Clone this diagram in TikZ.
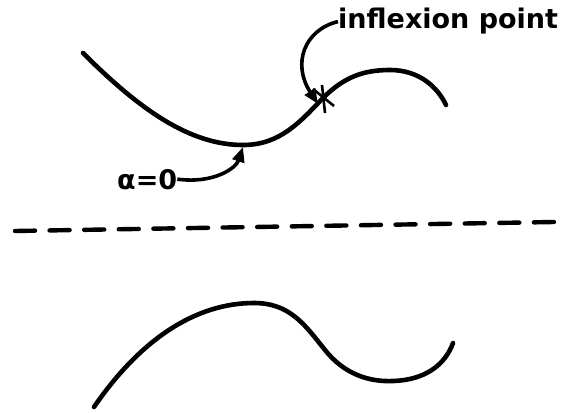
\documentclass[tikz,border=0pt]{standalone}
\usepackage{fontspec}
\setmainfont{DejaVu Sans}
\usetikzlibrary{arrows.meta}

\begin{document}
\begin{tikzpicture}[x=1pt, y=-1pt,
    curve/.style={line width=4.6pt, line cap=round},
    pointer/.style={line width=3.6pt, -{Triangle[length=15pt, width=12pt]}},
    every node/.style={font=\bfseries\fontsize{27}{29}\selectfont, inner sep=0pt}]
  \useasboundingbox (0,0) rectangle (561,412);
  % upper curve with its inflexion point
  \draw[curve] (83,53) .. controls (140,110) and (190,145) .. (243,145)
    .. controls (280,145) and (300,122) .. (323,98)
    .. controls (345,76) and (365,70) .. (390,70)
    .. controls (420,70) and (438,88) .. (446,105);
  \coordinate (xmark) at (323,98);
  \coordinate (minpt) at (243,147);
  \draw[line width=2.6pt] (313,89) -- (334,106);
  \draw[line width=2.6pt] (322,85) -- (325,113);
  \node[anchor=base west] (infl) at (338,29) {inflexion point};
  \node[anchor=base west] (azero) at (117,189) {α=0};
  \draw[pointer] (infl.west) .. controls (304,30) and (292,64) .. ([xshift=-5pt, yshift=-6pt]xmark);
  \draw[pointer] (azero.east) .. controls (214,184) and (236,168) .. (minpt);
  % dividing line
  \draw[line width=4.4pt, line cap=round, dash pattern=on 20pt off 14.6pt] (15,231) -- (554,222);
  % lower curve
  \draw[curve] (94,407) .. controls (140,340) and (195,303) .. (254,303)
    .. controls (290,303) and (305,325) .. (325,350)
    .. controls (345,375) and (370,382) .. (393,381)
    .. controls (425,380) and (445,365) .. (453,343);
\end{tikzpicture}
\end{document}
